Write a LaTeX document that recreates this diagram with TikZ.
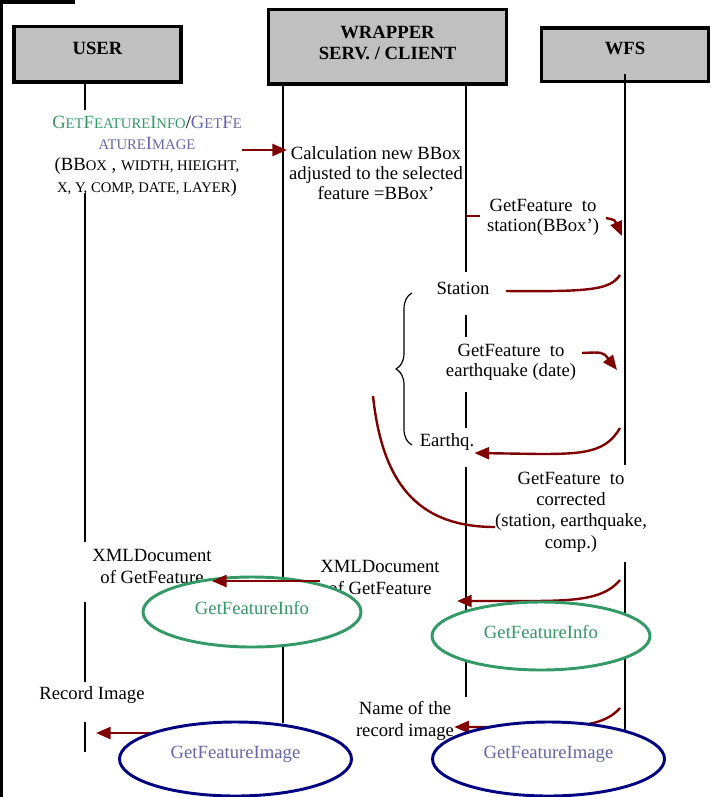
\documentclass[tikz,border=0pt]{standalone}
\usepackage{fontspec}
\setmainfont{Liberation Serif}
\usetikzlibrary{arrows.meta,shapes.geometric,decorations.pathreplacing,positioning}
\definecolor{msgRed}{RGB}{128,0,0}
\definecolor{infoGreen}{RGB}{51,153,102}
\definecolor{imageBlue}{RGB}{0,0,128}
\definecolor{imageText}{RGB}{102,102,170}
\definecolor{boxGray}{RGB}{192,192,192}
\newcommand{\pxUnit}{0.75pt}
\newcommand{\smc}[1]{{\fontsize{11}{16}\selectfont #1}}

\begin{document}
\begin{tikzpicture}[x=\pxUnit, y=-\pxUnit]
  \tikzset{every node/.style={font=\fontsize{14}{15}\selectfont, align=center, inner sep=0pt},
    actor/.style={draw, line width=2.8pt, fill=boxGray, font=\bfseries\fontsize{14}{16}\selectfont},
    life/.style={line width=1.5pt},
    msg/.style={draw=msgRed, line width=1.8pt},
    msgArrow/.style={msg, -{Triangle[length=11pt,width=9pt]}},
    result/.style={ellipse, draw, line width=2.2pt, fill=white, inner sep=0pt}}
  \useasboundingbox (0,0) rectangle (718,797);
  \clip (0,0) rectangle (718,797);

  % actors
  \draw[line width=2.8pt, fill=boxGray] (-40,-40) rectangle (73,2);
  \node[actor, minimum width=125pt, minimum height=41.6pt, text depth=9pt] (user-box) at (97.5,54.3) {USER};
  \node[actor, minimum width=178.5pt, minimum height=55.9pt, text depth=6pt] (wrap-box) at (387.5,46.8) {WRAPPER\\SERV. / CLIENT};
  \node[actor, minimum width=125.25pt, minimum height=40pt, text depth=9pt] (wfs-box) at (625,54.8) {WFS};

  % lifelines
  \draw[life] (1.5,2) -- (1.5,797);
  \draw[life] (85,82) -- (85,110) (85,193) -- (85,542) (85,602) -- (85,682) (85,722) -- (85,752);
  \draw[life] (283,82) -- (283,723);
  \draw[life] (466,82) -- (466,272) (466,315) -- (466,337) (466,392) -- (466,428) (466,467) -- (466,697);
  \draw[life] (625,74) -- (625,465) (625,562) -- (625,730);

  % texts
  \node[font=\fontsize{14}{16}\selectfont] (req) at (147,156)
    {{\color{infoGreen}G\smc{ET}F\smc{EATURE}I\smc{NFO}}/{\color{imageText}G\smc{ET}F\smc{E}}\\
     {\color{imageText}\smc{ATURE}I\smc{MAGE}}\\
     (BB\smc{OX} , \smc{WIDTH, HIEIGHT,}\\
     \smc{X, Y, COMP, DATE, LAYER})};
  \node (calc) at (376,173) {Calculation new BBox\\adjusted to the selected\\feature =BBox’};
  \node (gf-station) at (543,217) {GetFeature\ \ to\\station(BBox’)};
  \node (station) at (463,288) {Station};
  \node (gf-quake) at (511,362) {GetFeature\ \ to\\earthquake (date)};
  \node (quake) at (447,442) {Earthq.};
  \node[font=\fontsize{14}{16}\selectfont] (gf-corr) at (571,512) {GetFeature\ \ to\\corrected\\(station, earthquake,\\comp.)};
  \node[font=\fontsize{14}{16.5}\selectfont] (xml-user) at (152,566) {XMLDocument\\of GetFeature};
  \node[font=\fontsize{14}{16.5}\selectfont] (xml-wrap) at (380,577) {XMLDocument\\of GetFeature};
  \node (rec-img) at (92,695) {Record Image};
  \node[font=\fontsize{14}{16}\selectfont] (name-img) at (405,721) {Name of the\\record image};

  % end points on the lifelines
  \coordinate (srv-in) at (287,150);
  \coordinate (cli-out) at (466,216);
  \coordinate (gfs-out) at (606,218);
  \coordinate (wfs-in-1) at (622,236);
  \coordinate (wfs-out-1) at (620,275);
  \coordinate (sta-in) at (506,291);
  \coordinate (gfq-out) at (582,353);
  \coordinate (wfs-in-2) at (617,370);
  \coordinate (wfs-out-2) at (620,428);
  \coordinate (brace-out) at (373,396);
  \coordinate (wfs-out-3) at (620,580);
  \coordinate (cli-in) at (457,601);
  \coordinate (wfs-out-4) at (620,708);
  \coordinate (srv-out) at (283,733);
  \coordinate (usr-in) at (96,733);

  % messages
  \draw[msgArrow] (req.east |- srv-in) -- (srv-in);
  \draw[msg] (cli-out) -- ++(14,0);
  \draw[msgArrow] (gfs-out) .. controls (615,220) .. (wfs-in-1);
  \draw[msg] (wfs-out-1) .. controls (610,289) and (595,292) .. (sta-in);
  \draw[msgArrow] (gfq-out) .. controls (603,352) .. (wfs-in-2);
  \draw[msgArrow] (wfs-out-2) .. controls (606,452) and (585,454) .. (540,454) -- (quake.east |- 0,453);
  \draw[msg] (brace-out) .. controls (382,480) and (415,527) .. (gf-corr.west |- 0,527);
  \draw[msgArrow] (wfs-out-3) .. controls (605,598) and (580,601) .. (530,601) -- (cli-in);
  \draw[msgArrow] (wfs-out-4) .. controls (605,725) and (580,727) .. (540,727) -- (name-img.east |- 0,727);
  \draw[msgArrow] (srv-out) -- (usr-in);

  \draw[line width=0.9pt, decorate, decoration={brace, amplitude=12pt}] (412,445) -- (412,293);

  % results
  \node[result, draw=infoGreen, text=infoGreen, text depth=6pt, minimum width=163.5pt, minimum height=52.5pt] (info-srv) at (252,612) {GetFeatureInfo};
  \node[result, draw=infoGreen, text=infoGreen, text depth=6pt, minimum width=163.5pt, minimum height=51pt] (info-cli) at (541,636) {GetFeatureInfo};
  \node[result, draw=imageBlue, text=imageText, text depth=10.5pt, minimum width=174pt, minimum height=55.5pt] (img-srv) at (235.5,759) {GetFeatureImage};
  \node[result, draw=imageBlue, text=imageText, text depth=10.5pt, minimum width=174pt, minimum height=55.5pt] (img-cli) at (548.5,759) {GetFeatureImage};

  \draw[msgArrow] (xml-wrap.west |- 0,581) -- (xml-user.east |- 0,581);
\end{tikzpicture}
\end{document}
